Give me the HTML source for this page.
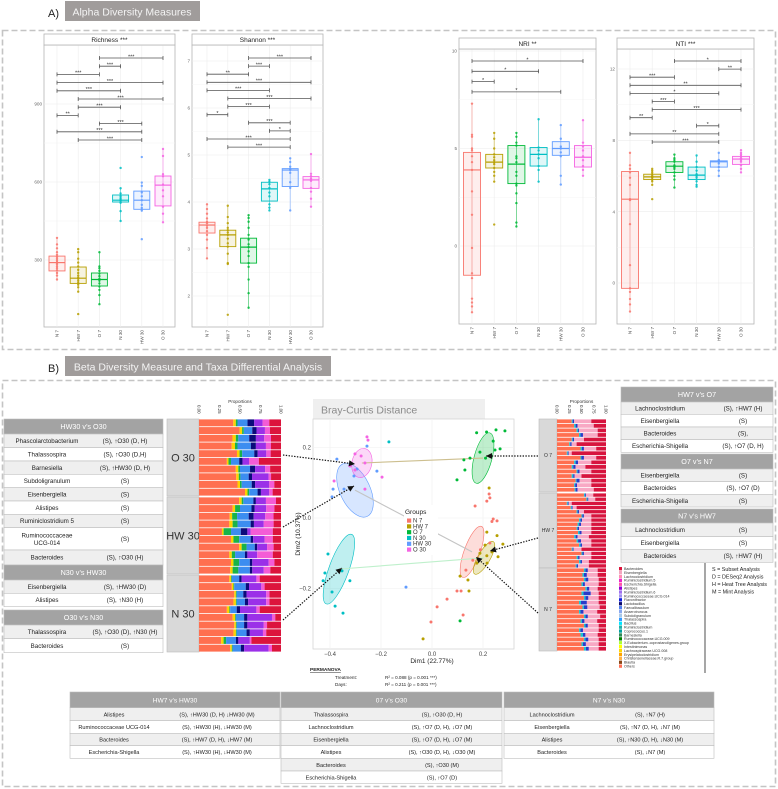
<!DOCTYPE html>
<html><head><meta charset="utf-8">
<style>
body{margin:0;background:#fff}
svg{display:block;font-family:"Liberation Sans",sans-serif}
</style></head>
<body>
<svg id="fig" width="778" height="789" viewBox="0 0 778 789">
  <text x="48" y="17" font-size="11" fill="#222">A)</text>
  <rect x="65" y="1" width="135" height="20" fill="#a09c9b"/>
  <text x="132" y="15.5" font-size="10.5" fill="#f4f4f4" text-anchor="middle">Alpha Diversity Measures</text>
  <rect x="2.5" y="30.5" width="773" height="319" fill="none" stroke="#c4c4c4" stroke-width="1.6" stroke-dasharray="6,3"/>
  <text x="48" y="372" font-size="11" fill="#222">B)</text>
  <rect x="65" y="356" width="266" height="20" fill="#a09c9b"/>
  <text x="198" y="370.5" font-size="10.5" fill="#f4f4f4" text-anchor="middle">Beta Diversity Measure and Taxa Differential Analysis</text>
  <rect x="2.5" y="380.5" width="773" height="406" fill="none" stroke="#c4c4c4" stroke-width="1.6" stroke-dasharray="6,3"/>
</svg>
<script>
// ---------------- DATA ----------------
const groups = ['N 7','HW 7','O 7','N 30','HW 30','O 30'];
// box stats: [lower whisker, q1, median, q3, upper whisker]
const richnessBox = [[225,258,290,315,385],[177,210,230,273,342],[130,200,225,250,330],[450,523,530,550,576],[485,495,530,565,596],[445,508,588,623,727]];
const richnessPoints = [
  [385,360,345,330,320,312,305,298,292,288,283,275,268,260,250,240,225],
  [342,330,305,290,275,262,250,240,232,228,220,212,205,195,178,92],
  [330,275,268,258,248,238,228,220,210,198,185,165,130],
  [654,576,556,545,538,532,528,520,488,450],
  [696,598,585,560,545,530,512,500,490,380],
  [727,700,630,622,590,568,545,505,478,445]];
const richnessTicks = [300,600,900];
const richnessBrackets = [[2,5,'***'],[2,3,'***'],[0,2,'***'],[0,5,'***'],[0,3,'***'],[1,5,'***'],[1,3,'***'],[0,1,'**'],[2,4,'***'],[0,4,'***'],[1,4,'***']];

const shannonBox = [[2.8,3.34,3.51,3.57,3.95],[2.68,3.05,3.3,3.4,3.92],[1.75,2.7,3.04,3.23,3.72],[3.82,4.02,4.28,4.42,4.47],[3.82,4.33,4.68,4.71,4.93],[3.9,4.29,4.47,4.54,5.02]];
const shannonPoints = [
  [3.95,3.85,3.75,3.65,3.58,3.55,3.5,3.45,3.38,3.3,3.2,3.02,2.8],
  [3.92,3.68,3.55,3.45,3.4,3.35,3.3,3.22,3.12,3.05,2.9,2.7,2.68,1.6],
  [3.72,3.66,3.58,3.45,3.3,3.2,3.1,3.04,2.95,2.85,2.7,2.62,2.35,2.06,1.75],
  [4.47,4.43,4.38,4.3,4.2,4.12,3.95,3.88,3.82],
  [4.93,4.85,4.75,4.7,4.68,4.62,4.42,4.3,3.82],
  [5.02,4.6,4.55,4.5,4.45,4.3,4.22,4.07,3.9]];
const shannonTicks = [2,3,4,5,6,7];
const shannonBrackets = [[2,5,'***'],[2,3,'***'],[0,2,'**'],[0,5,'***'],[0,3,'***'],[1,5,'***'],[1,3,'***'],[0,1,'*'],[2,4,'***'],[3,4,'*'],[0,4,'***'],[1,4,'***']];

const nriBox = [[-3.4,-1.5,3.9,4.8,7.3],[3.3,4.0,4.3,4.7,5.8],[1.0,3.2,4.2,5.15,5.8],[3.3,4.1,4.7,5.05,6.5],[3.15,4.65,5.0,5.35,6.2],[3.6,4.05,4.55,5.15,6.45]];
const nriPoints = [
  [7.3,5.7,5.6,5.0,4.9,4.6,4.3,3.9,2.8,1.6,-0.1,-1.4,-1.65,-2.7,-2.9,-3.1,-3.4],
  [5.8,5.5,5.0,4.7,4.55,4.4,4.3,4.2,4.0,3.8,3.6,3.3,1.1],
  [5.8,5.6,5.3,5.15,4.6,4.5,4.3,3.8,3.6,3.2,3.1,2.7,2.2,1.2,1.0],
  [6.5,5.05,4.9,4.7,4.5,4.1,3.9,3.3],
  [6.2,5.5,5.1,5.0,4.8,4.6,3.6,3.15],
  [6.45,5.3,5.1,4.9,4.6,4.4,4.1,3.9,3.6]];
const nriTicks = [0,5,10];
const nriBrackets = [[0,5,'*'],[0,3,'*'],[0,1,'*'],[0,4,'*']];

const ntiBox = [[-1.6,-0.3,4.7,6.25,7.3],[5.5,5.8,5.95,6.1,6.4],[5.35,6.2,6.55,6.8,7.2],[5.4,5.8,6.05,6.5,7.15],[6.0,6.5,6.8,6.85,7.3],[6.2,6.65,6.95,7.1,7.45]];
const ntiPoints = [
  [7.3,6.6,6.4,6.2,5.9,5.5,4.7,4.65,3.3,1.0,-0.3,-0.5,-0.9,-1.2,-1.6],
  [6.4,6.3,6.2,6.1,6.0,5.95,5.9,5.8,5.7,5.5,4.7],
  [7.2,7.0,6.9,6.8,6.6,6.5,6.4,6.2,6.0,5.8,5.35],
  [7.15,6.8,6.5,6.3,6.1,6.0,5.9,5.7,5.5,5.4],
  [7.3,6.9,6.85,6.8,6.7,6.5,6.3,6.0],
  [7.45,7.3,7.2,7.1,7.0,6.9,6.8,6.6,6.4,6.2]];
const ntiTicks = [0,4,8,12];
const ntiBrackets = [[2,5,'*'],[4,5,'**'],[0,2,'***'],[0,5,'**'],[0,4,'*'],[1,2,'***'],[1,5,'***'],[0,1,'**'],[3,4,'*'],[0,4,'**'],[1,4,'***']];

// PCA (Dim1, Dim2) points per group
const pcaN7 = [[.224,.068],[.227,.057],[.215,.048],[.169,.034],[.24,-.003],[.255,-.008],[.235,-.01],[.227,-.071],[.133,-.148],[.114,-.207],[.098,-.207],[.059,-.23],[.02,-.252],[-.004,-.295],[.122,-.275],[.16,-.12],[.19,-.09]];
const pcaHW7 = [[.215,-.04],[.255,-.05],[.278,-.074],[.235,-.096],[.215,-.107],[.259,-.11],[.11,-.165],[.145,-.207],[-.035,-.343],[.188,-.1],[.176,-.128],[.216,-.128],[.224,.085],[.208,-.077],[.141,-.176]];
const pcaO7 = [[.214,.244],[.251,.25],[.286,.247],[.24,.218],[.267,.196],[.247,.193],[.175,.242],[.188,.187],[.149,.17],[.125,.165],[.129,.136],[.098,.108],[.21,.17],[.11,-.292]];
const pcaN30 = [[-.408,-.102],[-.42,-.156],[-.427,-.178],[-.392,-.21],[-.38,-.25],[-.349,-.27],[-.322,-.178],[-.353,-.15],[-.169,.216]];
const pcaHW30 = [[-.373,.167],[-.388,.082],[-.392,.06],[-.345,.082],[-.294,.139],[-.306,.119],[-.255,.204],[-.216,.133],[-.102,-.196],[-.322,.148]];
const pcaO30 = [[-.255,.23],[-.251,.221],[-.302,.182],[-.278,.176],[-.263,.156],[-.322,.148],[-.196,.116],[-.384,.105],[-.263,.082],[-.302,.136]];
// ellipses: [cx, cy, rx, ry, angle]
const pcaEllipses = [[.157,-.096,.031,.077,20],[.204,-.113,.024,.053,30],[.2,.17,.035,.074,15],[-.365,-.145,.039,.105,20],[-.302,.079,.059,.082,-25],[-.275,.156,.039,.042,12]];
const pcaXTicks = [-0.4,-0.2,0.0,0.2];
const pcaYTicks = [-0.2,0.0,0.2];

// stacked bars: [Others, small taxa, green, blue, navy, purple, pink, Bacteroides]
const barsO30 = [[.41,.03,.02,.12,.08,.10,.08,.14],[.48,.03,.02,.10,.05,.10,.06,.13],[.40,.04,.03,.13,.08,.10,.08,.12],[.39,.04,.03,.16,.06,.12,.06,.12],[.44,.03,.03,.14,.04,.10,.05,.12],[.34,.02,.03,.10,.04,.08,.12,.27],[.44,.03,.02,.12,.06,.12,.06,.13],[.45,.03,.02,.10,.04,.20,.03,.12],[.46,.03,.02,.12,.04,.17,.06,.08],[.55,.03,.02,.10,.04,.10,.04,.10]];
const barsHW30 = [[.48,.03,.02,.12,.03,.12,.12,.06],[.41,.03,.06,.14,.04,.14,.10,.08],[.37,.03,.06,.14,.06,.14,.10,.09],[.37,.04,.06,.16,.04,.12,.12,.09],[.28,.02,.09,.12,.08,.04,.27,.10],[.39,.03,.07,.14,.03,.14,.10,.10],[.49,.03,.06,.10,.03,.12,.08,.09],[.37,.03,.04,.12,.03,.12,.19,.10],[.39,.03,.07,.13,.03,.20,.07,.08],[.38,.03,.07,.14,.03,.14,.08,.13]];
const barsN30 = [[.37,.02,.01,.09,.03,.18,.04,.26],[.40,.02,.01,.14,.04,.15,.04,.20],[.43,.02,.01,.08,.04,.24,.04,.14],[.42,.03,.01,.10,.04,.22,.04,.14],[.34,.03,.01,.08,.04,.20,.04,.26],[.41,.03,.01,.10,.04,.30,.04,.07],[.43,.02,.01,.09,.04,.20,.04,.17],[.42,.03,.01,.12,.04,.16,.04,.18],[.27,.03,.03,.12,.03,.14,.02,.36],[.38,.02,.01,.10,.04,.30,.04,.11]];
// [Others, small taxa, blue, Eisenbergiella, Bacteroides]
const barsO7 = [[.30,.02,.03,.35,.30],[.35,.03,.04,.33,.25],[.40,.03,.02,.38,.17],[.45,.03,.05,.30,.17],[.30,.02,.03,.20,.45],[.25,.02,.03,.10,.60],[.48,.03,.04,.25,.20],[.20,.02,.02,.06,.70],[.48,.02,.05,.25,.20],[.35,.03,.05,.27,.30],[.30,.03,.05,.20,.42],[.40,.02,.04,.24,.30],[.30,.03,.03,.14,.50],[.38,.02,.06,.24,.30],[.35,.02,.04,.29,.30],[.36,.02,.04,.33,.25]];
const barsHW7 = [[.55,.02,.02,.15,.26],[.60,.02,.02,.14,.22],[.20,.02,.02,.06,.70],[.28,.02,.02,.08,.60],[.40,.02,.03,.10,.45],[.50,.02,.03,.15,.30],[.45,.03,.03,.19,.30],[.42,.03,.04,.21,.30],[.40,.02,.03,.25,.30],[.43,.03,.04,.20,.30],[.35,.03,.04,.23,.35],[.40,.03,.06,.21,.30],[.45,.03,.03,.19,.30],[.30,.02,.02,.16,.50],[.50,.02,.03,.15,.30],[.40,.03,.03,.24,.30],[.45,.03,.03,.14,.35],[.38,.02,.03,.22,.35]];
const barsN7 = [[.55,.03,.05,.20,.17],[.52,.03,.06,.22,.17],[.55,.03,.06,.21,.15],[.50,.03,.04,.28,.15],[.58,.03,.05,.17,.17],[.50,.04,.15,.16,.15],[.55,.03,.06,.21,.15],[.45,.04,.12,.24,.15],[.52,.03,.07,.25,.13],[.45,.03,.06,.28,.18],[.55,.03,.05,.25,.12],[.48,.03,.05,.26,.18],[.55,.03,.05,.22,.15],[.45,.03,.05,.32,.15],[.48,.05,.05,.25,.17],[.55,.03,.06,.21,.15],[.50,.03,.06,.26,.15],[.55,.04,.06,.20,.15]];
const propTicks = [0,0.25,0.5,0.75,1];
const taxaNames = ['Bacteroides','Eisenbergiella','Lachnoclostridium','Ruminiclostridium.5','Escherichia.Shigella','Alistipes','Ruminiclostridium.6','Ruminococcaceae.UCG.014','Flavonifractor','Lactobacillus','Faecalibaculum','Anaerotruncus','Subdoligranulum','Thalassospira','Bacillus','Ruminiclostridium','Coprococcus.1','Barnesiella','Ruminococcaceae.UCG.009','X.Eubacterium..coprostanoligenes.group','Intestinimonas','Lachnospiraceae.UCG.008','Erysipelatoclostridium','Christensenellaceae.R.7.group','Blautia','Others'];

// ---------------- DRAWING ----------------
const NS='http://www.w3.org/2000/svg';
const svg=document.getElementById('fig');
function mk(tag,attrs,parent){const e=document.createElementNS(NS,tag);for(const k in attrs)e.setAttribute(k,attrs[k]);(parent||svg).appendChild(e);return e;}
function tx(str,attrs,parent){const e=mk('text',attrs,parent);e.textContent=str;return e;}
const gColors=['#F8766D','#B79F00','#00BA38','#00BFC4','#619CFF','#F564E3'];
const taxaColors=['#DC143C','#F4A6C0','#FF8FB1','#EE22CC','#FF55AA','#9400D3','#A070F0','#9F8CF0','#1020E0','#0A0A70','#5080F0','#88A8F0','#A8C8E8','#3399FF','#00E5FF','#20B2AA','#00A0A0','#2E8B57','#008000','#ADFF2F','#FFFF00','#FFD700','#FFA500','#FFB347','#8B4513','#FF7055'];

function drawPanel(c,pts,box,ticks,brk,title,nm){
  const g=mk('g',{});
  
  
  const yS=v=>c.p1+(v-c.v1)*(c.p2-c.p1)/(c.v2-c.v1);
  const xS=i=>c.xf+i*c.xs;
  const bg=mk('rect',{x:c.x0,y:c.pt,width:c.x1-c.x0,height:c.pb-c.pt,fill:'#fff',stroke:'#b5b5b5','stroke-width':0.8},g);
  
  
  for(let k=0;k<ticks.length;k++){
    const gl=mk('line',{x1:c.x0,x2:c.x1,y1:yS(ticks[k]),y2:yS(ticks[k]),stroke:'#ececec','stroke-width':0.6},g);
    
    
    if(k<ticks.length-1){
      const mid=(ticks[k]+ticks[k+1])/2;
      const ml=mk('line',{x1:c.x0,x2:c.x1,y1:yS(mid),y2:yS(mid),stroke:'#f4f4f4','stroke-width':0.5},g);
      
      
    }
    const tl=tx(String(ticks[k]),{x:c.x0-2,y:yS(ticks[k])+1.6,'font-size':4.6,fill:'#666','text-anchor':'end'},g);
    
    
  }
  for(let i=0;i<groups.length;i++){
    const vl=mk('line',{x1:xS(i),x2:xS(i),y1:c.pt,y2:c.pb,stroke:'#ececec','stroke-width':0.6},g);
    
    
  }
  const hd=mk('rect',{x:c.x0,y:c.ht,width:c.x1-c.x0,height:c.pt-c.ht,fill:'#fff',stroke:'#b5b5b5','stroke-width':0.8},g);
  
  
  const ht=tx(title,{x:(c.x0+c.x1)/2,y:c.pt-2.8,'font-size':6.5,fill:'#222','text-anchor':'middle'},g);
  
  
  for(let i=0;i<groups.length;i++){
    const b=box[i],x=xS(i),col=gColors[i],w=c.bw;
    const wl=mk('line',{x1:x,x2:x,y1:yS(b[0]),y2:yS(b[4]),stroke:col,'stroke-width':0.8,opacity:0.6},g);
    
    
    const br=mk('rect',{x:x-w/2,y:yS(b[3]),width:w,height:Math.max(0.5,yS(b[1])-yS(b[3])),fill:col,'fill-opacity':0.12,stroke:col,'stroke-width':0.9},g);
    
    
    const md=mk('line',{x1:x-w/2,x2:x+w/2,y1:yS(b[2]),y2:yS(b[2]),stroke:col,'stroke-width':1.2},g);
    
    
    for(const v of pts[i]){
      const p=mk('circle',{cx:x,cy:yS(v),r:1.2,fill:col,opacity:0.85},g);
      
      
    }
    const xl=tx(groups[i],{x:0,y:0,'font-size':4.6,fill:'#555','text-anchor':'end',transform:`translate(${x+1.6},${c.pb+3}) rotate(-90)`},g);
    
    
  }
  for(let k=0;k<brk.length;k++){
    const [a,b,lab]=brk[k];const y=c.bt+k*c.bs;
    const bl=mk('path',{d:`M${xS(a)},${y-2}V${y+2}M${xS(a)},${y}H${xS(b)}M${xS(b)},${y-2}V${y+2}`,stroke:'#555',fill:'none','stroke-width':0.8},g);
    
    
    const bt=tx(lab,{x:(xS(a)+xS(b))/2,y:y+0.3,'font-size':5.5,fill:'#333','text-anchor':'middle'},g);
    
    
  }
}
drawPanel({x0:44,x1:175,ht:34,pt:45,pb:327,v1:300,p1:260,v2:900,p2:104,xf:57,xs:21.2,bw:16,bt:58,bs:8.2},richnessPoints,richnessBox,richnessTicks,richnessBrackets,'Richness ***','richness');
drawPanel({x0:192,x1:323,ht:34,pt:45,pb:327,v1:2,p1:296,v2:7,p2:61,xf:207,xs:20.8,bw:16,bt:58,bs:8.1},shannonPoints,shannonBox,shannonTicks,shannonBrackets,'Shannon ***','shannon');
drawPanel({x0:459,x1:596,ht:38,pt:49,pb:324,v1:0,p1:246,v2:10,p2:51,xf:472,xs:22.2,bw:17,bt:61,bs:10.3},nriPoints,nriBox,nriTicks,nriBrackets,'NRI **','nri');
drawPanel({x0:617,x1:754,ht:38,pt:49,pb:324,v1:0,p1:283,v2:12,p2:69,xf:630,xs:22.2,bw:17,bt:61,bs:8.1},ntiPoints,ntiBox,ntiTicks,ntiBrackets,'NTI ***','nti');

// ---- tables ----
function drawTable(x,w,top,header,rows,bounds,nameX,valX,nm,fs){
  const g=mk('g',{});
  
  
  const h=mk('rect',{x:x,y:top,width:w,height:bounds[0]-top,fill:'#a3a3a3',stroke:'#bdbdbd','stroke-width':0.6},g);
  
  
  const ht=tx(header,{x:x+w/2,y:(top+bounds[0])/2+2.6,'font-size':fs+1,fill:'#fff','text-anchor':'middle'},g);
  
  
  for(let i=0;i<rows.length;i++){
    const y0=bounds[i],y1=bounds[i+1];
    const r=mk('rect',{x:x,y:y0,width:w,height:y1-y0,fill:i%2?'#fff':'#efefef',stroke:'#bdbdbd','stroke-width':0.6},g);
    
    
    const parts=rows[i][0].split('|');
    for(let j=0;j<parts.length;j++){
      const t=tx(parts[j],{x:nameX,y:(y0+y1)/2+2.2+(j-(parts.length-1)/2)*7.5,'font-size':fs,fill:'#222','text-anchor':'middle'},g);
      
      
    }
    const v=tx(rows[i][1],{x:valX,y:(y0+y1)/2+2.2,'font-size':fs,fill:'#222','text-anchor':'middle'},g);
    
    
  }
}
drawTable(4,159,419,'HW30 v’s O30',[['Phascolarctobacterium','(S), ↑O30 (D, H)'],['Thalassospira','(S), ↑O30 (D,H)'],['Barnesiella','(S), ↑HW30 (D, H)'],['Subdoligranulum','(S)'],['Eisenbergiella','(S)'],['Alistipes','(S)'],['Ruminiclostridium 5','(S)'],['Ruminococcaceae|UCG-014','(S)'],['Bacteroides','(S), ↑O30 (H)']],[434,447.7,461,474.3,487.7,501,514.3,527.7,550,565],47,125,'hw30-vs-o30',6.2);
drawTable(4,159,565,'N30 v’s HW30',[['Eisenbergiella','(S), ↑HW30 (D)'],['Alistipes','(S), ↑N30 (H)']],[580,593.3,606.7],47,125,'n30-vs-hw30',6.2);
drawTable(4,159,610,'O30 v’s N30',[['Thalassospira','(S), ↑O30 (D), ↑N30 (H)'],['Bacteroides','(S)']],[625,638.7,652.7],47,125,'o30-vs-n30',6.2);
drawTable(621,152,387,'HW7 v’s O7',[['Lachnoclostridium','(S), ↑HW7 (H)'],['Eisenbergiella','(S)'],['Bacteroides','(S),'],['Escherichia-Shigella','(S), ↑O7 (D, H)']],[402,414.3,427,439.7,452.3],660,743,'hw7-vs-o7',6.2);
drawTable(621,152,454,'O7 v’s N7',[['Eisenbergiella','(S)'],['Bacteroides','(S), ↑O7 (D)'],['Escherichia-Shigella','(S)']],[469,481.7,494.3,507],660,743,'o7-vs-n7',6.2);
drawTable(621,152,509,'N7 v’s HW7',[['Lachnoclostridium','(S)'],['Eisenbergiella','(S)'],['Bacteroides','(S), ↑HW7 (H)']],[523,536.7,549.3,562.3],660,743,'n7-vs-hw7',6.2);
drawTable(70,210,692,'HW7 v’s HW30',[['Alistipes','(S), ↑HW30 (D, H) ↓HW30 (M)'],['Ruminococcaceae UCG-014','(S), ↑HW30 (H), ↓HW30 (M)'],['Bacteroides','(S), ↑HW7 (D, H), ↓HW7 (M)'],['Escherichia-Shigella','(S), ↑HW30 (H), ↓HW30 (M)']],[707.7,720.7,733.3,745.7,758.3],114,217,'hw7-vs-hw30',5.6);
drawTable(281,221,692,'07 v’s O30',[['Thalassospira','(S), ↑O30 (D, H)'],['Lachnoclostridium','(S), ↑O7 (D, H), ↓O7 (M)'],['Eisenbergiella','(S), ↑O7 (D, H), ↓O7 (M)'],['Alistipes','(S), ↑O30 (D, H), ↓O30 (M)'],['Bacteroides','(S), ↑O30 (M)'],['Escherichia-Shigella','(S), ↑O7 (D)']],[707.7,720.7,733.3,745.7,758.3,771,783.3],331,442,'o7-vs-o30',5.6);
drawTable(504,210,692,'N7 v’s N30',[['Lachnoclostridium','(S), ↑N7 (H)'],['Eisenbergiella','(S), ↑N7 (D, H), ↓N7 (M)'],['Alistipes','(S), ↑N30 (D, H), ↓N30 (M)'],['Bacteroides','(S), ↓N7 (M)']],[707.7,720.7,733.3,745.7,758.3],552,650,'n7-vs-n30',5.6);

// ---- stacked bars ----
function drawBars(x0,x1,y0,y1,data,cols,label,nm,big){
  const g=mk('g',{});
  
  
  const lb=mk('rect',{x:big?167:539,y:y0,width:x0-(big?167:539),height:y1-y0,fill:'#d9d9d9',stroke:'#bbb','stroke-width':0.6},g);
  
  
  const lt=tx(label,{x:(x0+(big?167:539))/2,y:(y0+y1)/2+(big?4:1.5),'font-size':big?11:5,fill:'#333','text-anchor':'middle'},g);
  
  
  const bh=(y1-y0)/data.length;
  for(let i=0;i<data.length;i++){
    const row=data[i];const tot=row.reduce((a,b)=>a+b,0);let acc=0;
    for(let j=0;j<row.length;j++){
      const xa=x0+(x1-x0)*acc/tot;acc+=row[j];const xb=x0+(x1-x0)*acc/tot;
      const r=mk('rect',{x:xa,y:y0+i*bh+0.4,width:Math.max(0,xb-xa),height:bh-0.8,fill:cols[j]},g);
      
      
    }
  }
}
const leftCols=['#FF6F50','#FFD000','#19B34A','#3C8DF0','#0B0B7A','#9B30E8','#F45CD6','#DC143C'];
const rightCols=['#FF6F50','#18C6D0','#2A3AC8','#F8A8C4','#D7143E'];
drawBars(199,281,419,496,barsO30,leftCols,'O 30','o30',true);
drawBars(199,281,497,574,barsHW30,leftCols,'HW 30','hw30',true);
drawBars(199,281,575,652,barsN30,leftCols,'N 30','n30',true);
drawBars(557,606,419,492,barsO7,rightCols,'O 7','o7',false);
drawBars(557,606,493,568,barsHW7,rightCols,'HW 7','hw7',false);
drawBars(557,606,568,651,barsN7,rightCols,'N 7','n7',false);
function propAxis(x0,x1,nm){
  const t=tx('Proportions',{x:(x0+x1)/2,y:403,'font-size':4.6,fill:'#333','text-anchor':'middle'});
  
  
  for(const p of propTicks){
    const x=x0+(x1-x0)*p;
    const l=tx(p.toFixed(2),{x:0,y:0,'font-size':4.4,fill:'#333',transform:`translate(${x-1.5},405) rotate(90)`});
    
    
  }
}
propAxis(199,281,'left-bars');
propAxis(557,606,'right-bars');

// taxa legend
for(let i=0;i<taxaNames.length;i++){
  const y=567+i*3.9;
  const s=mk('rect',{x:619,y:y,width:3,height:3.3,fill:taxaColors[i]});
  
  
  const t=tx(taxaNames[i],{x:624,y:y+3,'font-size':3.6,fill:'#333'});
  
  
}
const vline=mk('line',{x1:705,x2:705,y1:563,y2:673,stroke:'#222','stroke-width':0.8});


const keyTexts=['S = Subset Analysis','D = DESeq2 Analysis','H = Heat Tree Analysis','M = Mint Analysis'];
for(let i=0;i<keyTexts.length;i++){
  const t=tx(keyTexts[i],{x:712,y:571+i*7.5,'font-size':5.4,fill:'#222'});
  
  
}

// ---- PCA ----
const px=v=>432+v*255, py=v=>518-v*352.5;
const pg=mk('g',{});


const tb=mk('rect',{x:313,y:399,width:172,height:20,fill:'#efefef'},pg);


const tt=tx('Bray-Curtis Distance',{x:321,y:413.5,'font-size':10.5,fill:'#8a8a8a'},pg);


const pa=mk('rect',{x:313,y:419,width:201,height:230,fill:'#fff',stroke:'#d0d0d0','stroke-width':0.7},pg);


for(const v of pcaXTicks){
  const l=mk('line',{x1:px(v),x2:px(v),y1:419,y2:649,stroke:'#f0f0f0','stroke-width':0.6},pg);
  
  
  const t=tx(v.toFixed(1).replace('-','−'),{x:px(v),y:656,'font-size':6,fill:'#444','text-anchor':'middle'},pg);
  
  
}
for(const v of pcaYTicks){
  const l=mk('line',{x1:313,x2:514,y1:py(v),y2:py(v),stroke:'#f0f0f0','stroke-width':0.6},pg);
  
  
  const t=tx(v.toFixed(1).replace('-','−'),{x:311,y:py(v)+2,'font-size':6,fill:'#444','text-anchor':'end'},pg);
  
  
}
const xt=tx('Dim1 (22.77%)',{x:432,y:663,'font-size':6.5,fill:'#222','text-anchor':'middle'},pg);


const yt=tx('Dim2 (10.37%)',{x:0,y:0,'font-size':6.5,fill:'#222','text-anchor':'middle',transform:'translate(300,534) rotate(-90)'},pg);


// ellipses
for(let i=0;i<pcaEllipses.length;i++){
  const [cx,cy,rx,ry,a]=pcaEllipses[i];
  const e=mk('ellipse',{cx:0,cy:0,rx:rx*255,ry:ry*352.5,fill:gColors[i],'fill-opacity':0.25,stroke:gColors[i],'stroke-width':0.6,transform:`translate(${px(cx)},${py(cy)}) rotate(${a})`},pg);
  
  
}
// centroid connectors
const links=[[5,2,'#cdbf8f'],[4,0,'#c4c4c4'],[3,1,'#bff0cc']];
for(const [a,b,c] of links){
  const l=mk('line',{x1:px(pcaEllipses[a][0]),y1:py(pcaEllipses[a][1]),x2:px(pcaEllipses[b][0]),y2:py(pcaEllipses[b][1]),stroke:c,'stroke-width':1.1},pg);
  
  
}
const pcaSets=[pcaN7,pcaHW7,pcaO7,pcaN30,pcaHW30,pcaO30];
for(let i=0;i<pcaSets.length;i++){
  for(const [a,b] of pcaSets[i]){
    const c=mk('circle',{cx:px(a),cy:py(b),r:1.5,fill:gColors[i]},pg);
    
    
  }
}
// legend
const lgb=mk('rect',{x:404,y:505,width:34,height:50,fill:'#fff'},pg);


const lgt=tx('Groups',{x:405,y:514,'font-size':6.5,fill:'#222'},pg);


for(let i=0;i<groups.length;i++){
  const y=518.5+i*5.8;
  const s=mk('rect',{x:407,y:y,width:4.2,height:4.2,fill:gColors[i]},pg);
  
  
  const t=tx(groups[i],{x:413,y:y+4,'font-size':6,fill:'#333'},pg);
  
  
}
// dotted arrows
const arrows=[[283,455,355,464],[283,527,354,486],[283,620,342,568],[538,456,486,456],[538,538,490,551],[538,613,476,557]];
for(const [x1,y1,x2,y2] of arrows){
  const l=mk('line',{x1:x1,y1:y1,x2:x2,y2:y2,stroke:'#111','stroke-width':1.2,'stroke-dasharray':'1.4,1.4'});
  
  
  const ang=Math.atan2(y2-y1,x2-x1),L=6,W=3;
  const bx=x2-L*Math.cos(ang),by=y2-L*Math.sin(ang);
  const h=mk('polygon',{points:`${x2},${y2} ${bx-W*Math.sin(ang)},${by+W*Math.cos(ang)} ${bx+W*Math.sin(ang)},${by-W*Math.cos(ang)}`,fill:'#111'});
  
  
}
// PERMANOVA
const pm=tx('PERMANOVA',{x:310,y:671,'font-size':4.8,fill:'#222','text-decoration':'underline','font-weight':'bold'});


const permRows=[['Treatment:','R² = 0.088 (p = 0.001 ***)'],['Days:','R² = 0.211 (p = 0.001 ***)']];
for(let i=0;i<permRows.length;i++){
  const a=tx(permRows[i][0],{x:335,y:679+i*7,'font-size':4.6,fill:'#222'});
  
  
  const b=tx(permRows[i][1],{x:385,y:679+i*7,'font-size':4.6,fill:'#222'});
  
  
}
</script>
</body></html>
